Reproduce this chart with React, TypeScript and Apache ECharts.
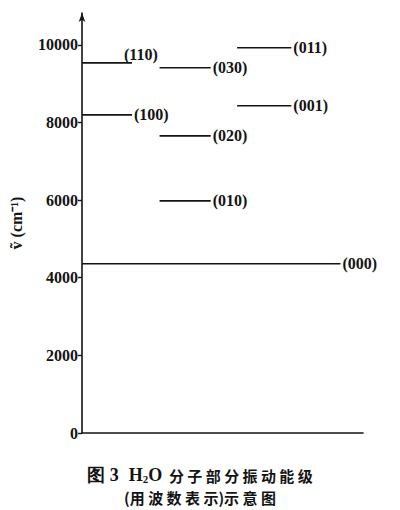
import React, { useEffect, useRef } from "react";
import * as echarts from "echarts";

// Vibrational levels of H2O (schematic), wavenumber in cm^-1
const levelNames = ["(000)", "(010)", "(020)", "(030)", "(100)", "(110)", "(001)", "(011)"];
const wavenumbers = [4360, 5980, 7655, 9410, 8195, 9535, 8430, 9925];
// column each level is drawn in (0 = full width, 1..3 = columns)
const levelColumn = [0, 2, 2, 2, 1, 1, 3, 3];
// horizontal span of each column on a 0..100 schematic axis
const columnStart = [0, 0, 27.6, 55.2];
const columnEnd = [92, 17.8, 45.8, 74.5];
const yTicks = [0, 2000, 4000, 6000, 8000, 10000];

export default function App() {
  const ref = useRef<HTMLDivElement>(null);
  useEffect(() => {
    document.body.style.margin = "0";
    if (!ref.current) return;
    const chart = echarts.init(ref.current, null, { renderer: "svg" });
    const ink = "#141414";
    const series = levelNames.map((name, i) => {
      const c = levelColumn[i];
      const isRaised = name === "(110)";
      return {
        type: "line",
        name,
        symbol: "none",
        silent: true,
        lineStyle: { color: ink, width: 1.6 },
        data: [
          [columnStart[c], wavenumbers[i]],
          [columnEnd[c], wavenumbers[i]],
        ],
        endLabel: {
          show: true,
          formatter: name,
          distance: 2,
          offset: isRaised ? [-10, -8] : [0, 0],
          color: ink,
          fontFamily: "Liberation Serif",
          fontWeight: "bold",
          fontSize: 16,
        },
      };
    });
    chart.setOption({
      animation: false,
      grid: { left: 77, right: 37, top: 13, bottom: 77 },
      xAxis: {
        type: "value",
        min: 0,
        max: 100,
        axisLine: { show: true, lineStyle: { color: ink, width: 1.6 } },
        axisTick: { show: false },
        axisLabel: { show: false },
        splitLine: { show: false },
      },
      yAxis: {
        type: "value",
        min: 0,
        max: 10820,
        name: "ṽ (cm⁻¹)",
        nameLocation: "middle",
        nameRotate: 90,
        nameGap: 58,
        nameTextStyle: {
          color: ink,
          fontFamily: "Liberation Serif",
          fontWeight: "bold",
          fontSize: 16,
        },
        axisLine: {
          show: true,
          symbol: ["none", "arrow"],
          symbolSize: [5, 9],
          lineStyle: { color: ink, width: 1.6 },
        },
        axisTick: {
          show: true,
          length: 4,
          customValues: yTicks,
          lineStyle: { color: ink, width: 1.4 },
        },
        axisLabel: {
          customValues: yTicks,
          formatter: (v: number) => String(v),
          margin: 4,
          color: ink,
          fontFamily: "Liberation Serif",
          fontWeight: "bold",
          fontSize: 16,
        },
        splitLine: { show: false },
      },
      graphic: [
        {
          type: "text",
          left: "center",
          top: 466,
          style: {
            text: "{a|图 3}   {a|H}{s|2}{a|O}  {c|分 子 部 分 振 动 能 级}",
            rich: {
              a: { fontFamily: "Liberation Serif", fontSize: 18, fontWeight: "bold", fill: ink },
              s: { fontFamily: "Liberation Serif", fontSize: 11, fontWeight: "bold", fill: ink, verticalAlign: "bottom", padding: [8, 0, 0, 0] },
              c: { fontFamily: "Noto Sans CJK SC", fontSize: 15, fontWeight: "bold", fill: ink },
            },
          },
        },
        {
          type: "text",
          left: "center",
          top: 490,
          style: {
            text: "(用 波 数 表 示)示 意 图",
            fontFamily: "Noto Sans CJK SC",
            fontSize: 15,
            fontWeight: "bold",
            fill: ink,
          },
        },
      ],
      series,
    });
    return () => chart.dispose();
  }, []);
  return (
    <div
      ref={ref}
      style={{ width: 400, height: 510, position: "absolute", left: 0, top: 0, background: "#fff" }}
    />
  );
}
